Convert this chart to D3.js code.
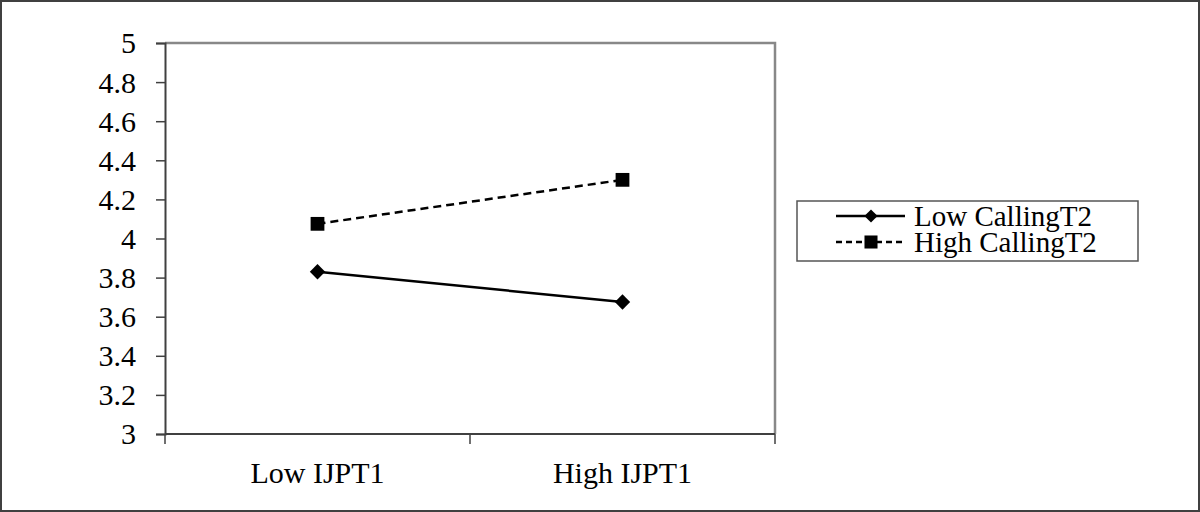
<!DOCTYPE html>
<html>
<head>
<meta charset="UTF-8">
<title>Calling by IJP</title>
<script src="https://cdn.jsdelivr.net/npm/d3@7/dist/d3.min.js"></script>
<style>
  body { margin: 0; background: #fff; }
  text { font-family: "Liberation Serif", "DejaVu Serif", serif; fill: #000; }
</style>
</head>
<body>
<div id="chart"></div>
<script>

// data
var categories = ["Low IJPT1", "High IJPT1"]
var seriesNames = ["Low CallingT2", "High CallingT2"]
var lowCalling = [3.83, 3.675]
var highCalling = [4.075, 4.30]
var yTicks = [3, 3.2, 3.4, 3.6, 3.8, 4, 4.2, 4.4, 4.6, 4.8, 5]

var W = 1200, H = 512
var plot = { left: 165, top: 43, right: 775, bottom: 434 }

var svg = d3.select("#chart").append("svg")
  .attr("width", W).attr("height", H)

// outer frame
svg.append("rect")
  .attr("x", 1).attr("y", 1).attr("width", W - 2).attr("height", H - 2)
  .attr("fill", "#fff").attr("stroke", "#404040").attr("stroke-width", 2)

var x = d3.scaleBand().domain(categories).range([plot.left, plot.right])
var y = d3.scaleLinear().domain([3, 5]).range([plot.bottom, plot.top])

// top and right of the plot box, lighter grey
svg.append("path")
  .attr("d", "M" + plot.left + "," + plot.top + "H" + plot.right + "V" + plot.bottom)
  .attr("fill", "none").attr("stroke", "#888").attr("stroke-width", 2.5)

// y axis
var yAxis = svg.append("g")
  .attr("transform", "translate(" + plot.left + ",0)")
  .call(d3.axisLeft(y).tickValues(yTicks).tickSize(9).tickPadding(20)
    .tickFormat(function(d) { return d3.format("")(+d.toFixed(1)); }))
yAxis.select(".domain").attr("stroke", "#404040").attr("stroke-width", 2)
yAxis.selectAll(".tick line").attr("stroke", "#404040").attr("stroke-width", 1.5)
yAxis.selectAll(".tick text").attr("font-size", 30).attr("dy", "0.33em")
  .attr("font-family", "Liberation Serif")

// x axis: ticks between categories, labels centred in bands
var xAxis = svg.append("g")
  .attr("transform", "translate(0," + plot.bottom + ")")
xAxis.append("line")
  .attr("x1", plot.left).attr("x2", plot.right)
  .attr("stroke", "#404040").attr("stroke-width", 2)
var bounds = [plot.left].concat(categories.map(function(c) { return x(c) + x.bandwidth(); }))
xAxis.selectAll(".xtick").data(bounds).enter().append("line")
  .attr("class", "xtick")
  .attr("x1", function(d) { return d; }).attr("x2", function(d) { return d; })
  .attr("y1", 0).attr("y2", 10)
  .attr("stroke", "#404040").attr("stroke-width", 1.5)
xAxis.selectAll(".xlabel").data(categories).enter().append("text")
  .attr("class", "xlabel")
  .attr("x", function(d) { return x(d) + x.bandwidth() / 2; })
  .attr("y", 49)
  .attr("text-anchor", "middle")
  .attr("font-size", 30)
  .text(function(d) { return d; })

var cx = function(d, i) { return x(categories[i]) + x.bandwidth() / 2; }
var line = d3.line().x(cx).y(function(d) { return y(d); })

var diamond = d3.symbol().type(d3.symbolDiamond2).size(150)
var square = d3.symbol().type(d3.symbolSquare).size(190)

// Low CallingT2: solid with diamonds
svg.append("path").datum(lowCalling)
  .attr("d", line).attr("fill", "none")
  .attr("stroke", "#000").attr("stroke-width", 2.5)
svg.selectAll(".lowpt").data(lowCalling).enter().append("path")
  .attr("class", "lowpt")
  .attr("d", diamond)
  .attr("transform", function(d, i) { return "translate(" + cx(d, i) + "," + y(d) + ")"; })
  .attr("fill", "#000")

// High CallingT2: dashed with squares
svg.append("path").datum(highCalling)
  .attr("d", line).attr("fill", "none")
  .attr("stroke", "#000").attr("stroke-width", 2.5)
  .attr("stroke-dasharray", "8,5")
svg.selectAll(".highpt").data(highCalling).enter().append("path")
  .attr("class", "highpt")
  .attr("d", square)
  .attr("transform", function(d, i) { return "translate(" + cx(d, i) + "," + y(d) + ")"; })
  .attr("fill", "#000")

// legend
var legend = svg.append("g").attr("transform", "translate(797,201)")
legend.append("rect")
  .attr("width", 341).attr("height", 60)
  .attr("fill", "#fff").attr("stroke", "#555").attr("stroke-width", 1.5)

var rows = legend.selectAll(".row").data(seriesNames).enter().append("g")
  .attr("class", "row")
  .attr("transform", function(d, i) { return "translate(0," + (15 + i * 26) + ")"; })
rows.append("line")
  .attr("x1", 39).attr("x2", 108)
  .attr("stroke", "#000").attr("stroke-width", 2.5)
  .attr("stroke-dasharray", function(d, i) { return i ? "6,4" : null; })
rows.append("path")
  .attr("d", function(d, i) { return i ? d3.symbol().type(d3.symbolSquare).size(170)() : d3.symbol().type(d3.symbolDiamond2).size(110)(); })
  .attr("transform", "translate(74,0)")
  .attr("fill", "#000")
rows.append("text")
  .attr("x", 117).attr("dy", "0.33em")
  .attr("font-size", 29)
  .text(function(d) { return d; })

</script>
</body>
</html>
